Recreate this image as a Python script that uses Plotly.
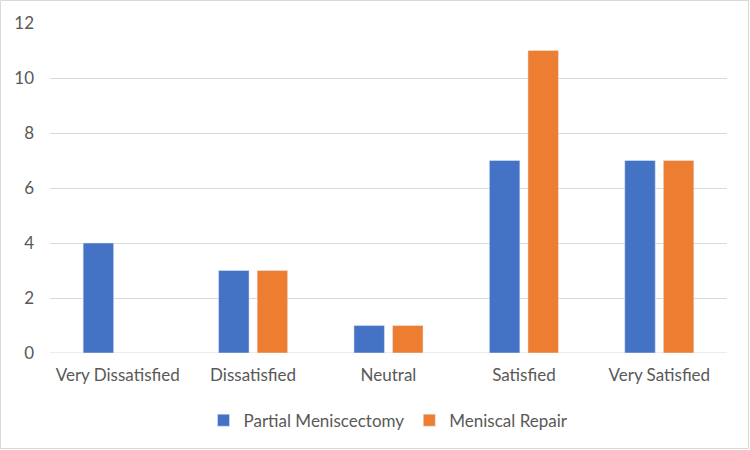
import plotly.graph_objects as go

categories = ["Very Dissatisfied", "Dissatisfied", "Neutral", "Satisfied", "Very Satisfied"]
partial_meniscectomy = [4, 3, 1, 7, 7]
meniscal_repair = [0, 3, 1, 11, 7]
y_ticks = [0, 2, 4, 6, 8, 10, 12]

FONT = "Lato"
TXT = "#595959"

fig = go.Figure()
fig.add_trace(go.Bar(x=categories, y=partial_meniscectomy, name="Partial Meniscectomy",
                     marker_color="#4472C4"))
fig.add_trace(go.Bar(x=categories, y=meniscal_repair, name="Meniscal Repair",
                     marker_color="#ED7D31"))

W, H = 750, 450
L, R, T, B = 50, 23, 23, 97
pw, ph = W - L - R, H - T - B

fig.update_layout(
    width=W, height=H,
    margin=dict(l=L, r=R, t=T, b=B, autoexpand=False),
    paper_bgcolor="white", plot_bgcolor="white",
    barmode="group", bargap=0.43, bargroupgap=0.21,
    font=dict(family=FONT, size=17, color=TXT),
    showlegend=True,
    legend=dict(orientation="h", x=0.5, xanchor="center", y=-0.205, yanchor="middle",
                font=dict(family=FONT, size=17, color=TXT), itemwidth=30,
                traceorder="normal"),
    xaxis=dict(showgrid=False, showline=False, ticks="", tickfont=dict(size=17, color=TXT),
               ticklabelstandoff=10),
    yaxis=dict(range=[0, 12], tickvals=y_ticks, showgrid=True, gridcolor="#D9D9D9",
               gridwidth=1, zeroline=False, showline=False, ticks="",
               tickfont=dict(size=17, color=TXT), ticklabelstandoff=15),
    shapes=[dict(type="rect", xref="paper", yref="paper",
                 x0=-L / pw + 0.5 / pw, x1=1 + (R - 1.5) / pw,
                 y0=-(B - 1.5) / ph, y1=1 + (T - 0.5) / ph,
                 line=dict(color="#D9D9D9", width=1), layer="below")],
)
fig.add_shape(type="line", xref="paper", yref="y", x0=0, x1=1, y0=0, y1=0,
              line=dict(color="#D9D9D9", width=1), layer="below")

fig.write_html("out.html", config={"displayModeBar": False},
               post_script="document.body.style.margin='0px';")
